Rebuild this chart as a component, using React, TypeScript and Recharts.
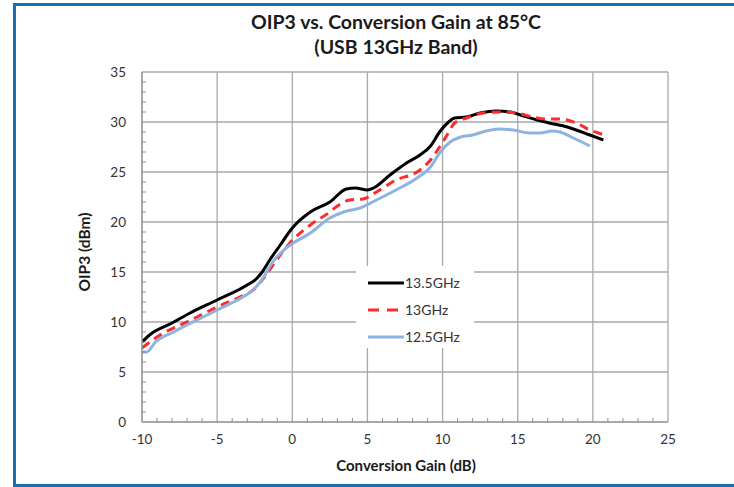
import React from "react";
import {
  LineChart,
  Line,
  XAxis,
  YAxis,
  ReferenceLine,
  Legend,
} from "recharts";

// Conversion gain (dB) / OIP3 (dBm), one pair per series
const gain135 = [-10, -9.5, -8, -6.8, -5, -3, -2.4, -2, -1.5, -0.8, 0, 1.2, 2.5, 3.6, 4.2, 5, 5.4, 6.5, 7.6, 8.5, 9.2, 9.8, 10.4, 10.8, 11.6, 12.5, 13.6, 14.5, 15.4, 16.3, 17.1, 18.3, 19.8, 20.7];
const oip135 = [8.0, 8.7, 9.9, 10.9, 12.2, 13.7, 14.3, 15.0, 16.2, 17.7, 19.4, 21.0, 22.0, 23.3, 23.4, 23.2, 23.4, 24.7, 25.9, 26.7, 27.6, 29.0, 30.0, 30.4, 30.5, 30.9, 31.1, 31.0, 30.6, 30.2, 29.9, 29.5, 28.7, 28.2];

const gain13 = [-10, -9, -6.6, -5, -3.5, -2.6, -1.9, -1.6, -1.0, -0.1, 1.2, 2.5, 3.0, 3.8, 4.7, 5.6, 6.9, 8.3, 9.2, 9.8, 10.3, 10.8, 11.6, 12.7, 13.8, 14.9, 16.0, 16.9, 17.8, 18.9, 19.8, 20.8];
const oip13 = [7.4, 8.5, 10.3, 11.5, 12.5, 13.2, 14.4, 15.0, 16.3, 18.0, 19.7, 21.0, 21.6, 22.2, 22.3, 23.0, 24.2, 25.0, 26.2, 27.5, 28.7, 29.9, 30.4, 30.9, 31.0, 30.9, 30.5, 30.3, 30.3, 29.9, 29.2, 28.7];

const gain125 = [-10, -9.7, -9.1, -7.9, -5, -3.3, -2.6, -1.9, -1.3, -0.4, 1.2, 2.5, 3.4, 4.5, 5.6, 6.9, 8.3, 9.2, 9.8, 10.5, 11.2, 12.0, 12.9, 13.8, 14.7, 15.8, 16.5, 17.3, 17.8, 18.7, 19.8];
const oip125 = [7.0, 7.0, 8.0, 9.0, 11.2, 12.5, 13.2, 14.5, 16.0, 17.4, 18.9, 20.4, 21.0, 21.4, 22.2, 23.2, 24.4, 25.5, 26.9, 28.0, 28.5, 28.7, 29.1, 29.3, 29.2, 28.9, 28.9, 29.1, 29.0, 28.4, 27.6];

// axis ticks (every 1 unit; labels only on multiples of 5)
const xTicks = Array.from({ length: 36 }, (_, i) => i - 10);
const yTicks = Array.from({ length: 36 }, (_, i) => i);
const xMajor = [-5, 0, 5, 10, 15, 20, 25];
const yMajor = [5, 10, 15, 20, 25, 30, 35];

const toPoints = (xs: number[], ys: number[]) => xs.map((x, i) => ({ x, y: ys[i] }));

const series = [
  { name: "13.5GHz", data: toPoints(gain135, oip135), color: "#000000", dash: undefined },
  { name: "13GHz", data: toPoints(gain13, oip13), color: "#ff2a2a", dash: "9 6" },
  { name: "12.5GHz", data: toPoints(gain125, oip125), color: "#8db3e2", dash: undefined },
];

const FONT = "Lato, 'Open Sans', sans-serif";
const AXIS = "#8c8c8c";
const GRID = "#a8a8a8";

const XTick = (props: any) => {
  const { x, y, payload } = props;
  const v = payload.value;
  if (v % 5 === 0) {
    return (
      <text x={x} y={y + 22} textAnchor="middle" fontSize={13.5} fill="#333" fontFamily={FONT}>
        {v}
      </text>
    );
  }
  return <line x1={x} x2={x} y1={y} y2={y - 4} stroke={AXIS} strokeWidth={1} />;
};

const YTick = (props: any) => {
  const { x, y, payload } = props;
  const v = payload.value;
  if (v % 5 === 0) {
    return (
      <text x={x - 16} y={y + 5} textAnchor="end" fontSize={13.5} fill="#333" fontFamily={FONT}>
        {v}
      </text>
    );
  }
  return <line x1={x} x2={x + 4} y1={y} y2={y} stroke={AXIS} strokeWidth={1} />;
};

const LegendBox = () => (
  <div style={{ background: "#fff", width: 118, height: 82, position: "relative", fontFamily: FONT }}>
    {series.map((s, i) => (
      <div key={s.name} style={{ position: "absolute", left: 0, top: 17 + i * 27 - 10, height: 20, width: 118 }}>
        <svg width={40} height={20} style={{ position: "absolute", left: 10, top: 0 }}>
          <line x1={2} x2={38} y1={10} y2={10} stroke={s.color} strokeWidth={3} strokeDasharray={s.dash ? "11 8" : undefined} />
        </svg>
        <span style={{ position: "absolute", left: 49, top: 1, fontSize: 14, color: "#333", lineHeight: "18px" }}>
          {s.name}
        </span>
      </div>
    ))}
  </div>
);

export default function App() {
  return (
    <div style={{ position: "absolute", left: 0, top: 0, width: 734, height: 487, background: "#fff", fontFamily: FONT }}>
      <div
        style={{
          position: "absolute",
          left: 13,
          top: 3,
          width: 721,
          height: 484,
          boxSizing: "border-box",
          borderTop: "3px solid #1570b5",
          borderLeft: "3px solid #1570b5",
          borderBottom: "3px solid #1570b5",
        }}
      />
      <div style={{ position: "absolute", left: 0, width: 792, top: 9, textAlign: "center", fontWeight: 700, fontSize: 19.5, lineHeight: "25px", color: "#1a1a1a" }}>
        OIP3 vs. Conversion Gain at 85°C
        <br />
        (USB 13GHz Band)
      </div>
      <div style={{ position: "absolute", left: 0, width: 812, top: 456, textAlign: "center", fontWeight: 700, fontSize: 15, color: "#1a1a1a" }}>
        Conversion Gain (dB)
      </div>
      <div
        style={{
          position: "absolute",
          left: 84,
          top: 252,
          transform: "translate(-50%, -50%) rotate(-90deg)",
          fontWeight: 700,
          fontSize: 15.5,
          color: "#1a1a1a",
          whiteSpace: "nowrap",
        }}
      >
        OIP3 (dBm)
      </div>
      <LineChart width={734} height={487} margin={{ top: 72, right: 66, bottom: 35, left: 92 }} style={{ position: "absolute", left: 0, top: 0 }}>
        <XAxis
          dataKey="x"
          type="number"
          domain={[-10, 25]}
          ticks={xTicks}
          interval={0}
          tickSize={0}
          tickMargin={0}
          tick={<XTick />}
          axisLine={{ stroke: AXIS, strokeWidth: 1.5 }}
          height={30}
          allowDataOverflow
        />
        <YAxis
          type="number"
          domain={[0, 35]}
          ticks={yTicks}
          interval={0}
          tickSize={0}
          tickMargin={0}
          tick={<YTick />}
          axisLine={{ stroke: AXIS, strokeWidth: 1.5 }}
          width={50}
          allowDataOverflow
        />
        {xMajor.map((v) => (
          <ReferenceLine key={`vx${v}`} x={v} stroke={GRID} strokeWidth={1.3} />
        ))}
        {yMajor.map((v) => (
          <ReferenceLine key={`hy${v}`} y={v} stroke={GRID} strokeWidth={1.3} />
        ))}
        <Legend
          layout="vertical"
          align="center"
          verticalAlign="middle"
          wrapperStyle={{ left: 356, top: 266, width: 118, height: 82 }}
          content={() => <LegendBox />}
        />
        {series.map((s) => (
          <Line
            key={s.name}
            name={s.name}
            data={s.data}
            dataKey="y"
            type="monotone"
            stroke={s.color}
            strokeWidth={3}
            strokeDasharray={s.dash}
            dot={false}
            activeDot={false}
            isAnimationActive={false}
          />
        ))}
      </LineChart>
    </div>
  );
}
